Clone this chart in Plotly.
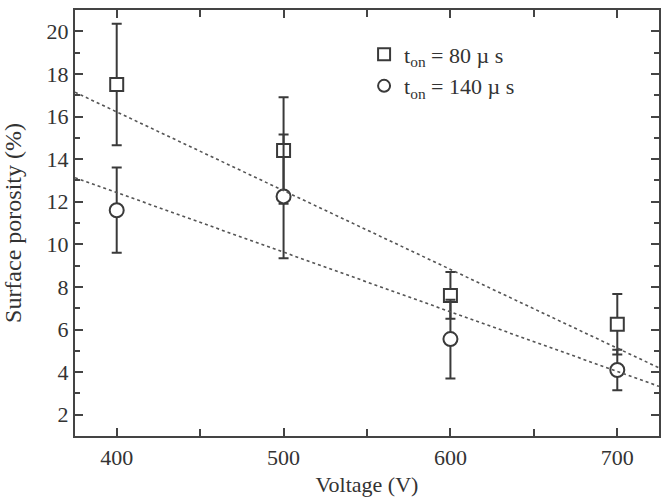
import plotly.graph_objects as go

voltage = [400, 500, 600, 700]
por_80 = [17.5, 14.4, 7.6, 6.25]
err_80 = [2.85, 2.5, 1.1, 1.42]
por_140 = [11.6, 12.25, 5.55, 4.1]
err_140 = [2.0, 2.9, 1.85, 0.95]

fit_x = [375, 725]
fit_80 = [17.14, 4.2]
fit_140 = [13.13, 3.33]

dark = "#3a3a3a"
font_family = "Liberation Serif"

fig = go.Figure()
fig.add_trace(go.Scatter(
    x=voltage, y=por_80, mode="markers", name="t<sub>on</sub> = 80 µ s",
    marker=dict(symbol="square", size=13, color="white", line=dict(color=dark, width=2)),
    error_y=dict(type="data", array=err_80, color=dark, thickness=2, width=5),
))
fig.add_trace(go.Scatter(
    x=voltage, y=por_140, mode="markers", name="t<sub>on</sub> = 140 µ s",
    marker=dict(symbol="circle", size=14, color="white", line=dict(color=dark, width=2)),
    error_y=dict(type="data", array=err_140, color=dark, thickness=2, width=5),
))
fig.add_trace(go.Scatter(x=fit_x, y=fit_80, mode="lines", showlegend=False,
                         line=dict(color="#555555", width=1.6, dash="dot")))
fig.add_trace(go.Scatter(x=fit_x, y=fit_140, mode="lines", showlegend=False,
                         line=dict(color="#555555", width=1.6, dash="dot")))

axis_common = dict(
    showline=True, linecolor="#444444", linewidth=2, mirror="allticks",
    ticks="inside", ticklen=8, tickwidth=1.5, tickcolor="#444444",
    showgrid=False, zeroline=False, automargin=False,
    tickfont=dict(family=font_family, size=22, color="#333333"),
)

fig.update_layout(
    width=667, height=497,
    margin=dict(l=75, r=8, t=10, b=61),
    paper_bgcolor="white", plot_bgcolor="white",
    font=dict(family=font_family, color="#333333"),
    xaxis=dict(range=[375, 725], tickvals=[400, 500, 600, 700], ticklabelstandoff=1,
               minor=dict(tickvals=[450, 550, 650], ticks="inside", ticklen=7,
                          tickcolor="#444444", tickwidth=1.5),
               title=dict(text="Voltage (V)", font=dict(family=font_family, size=22), standoff=22),
               **axis_common),
    yaxis=dict(range=[1, 21], tickvals=[2, 4, 6, 8, 10, 12, 14, 16, 18, 20],
               minor=dict(dtick=1, tick0=1, ticks="inside", ticklen=5,
                          tickcolor="#444444", tickwidth=1.5),
               title=dict(text="Surface porosity (%)", font=dict(family=font_family, size=24), standoff=18),
               **axis_common),
    legend=dict(x=0.495, y=0.945, xanchor="left", yanchor="top",
                bgcolor="rgba(0,0,0,0)", font=dict(family=font_family, size=22),
                tracegroupgap=0, itemsizing="constant"),
    showlegend=True,
)

fig.write_html("out.html")
